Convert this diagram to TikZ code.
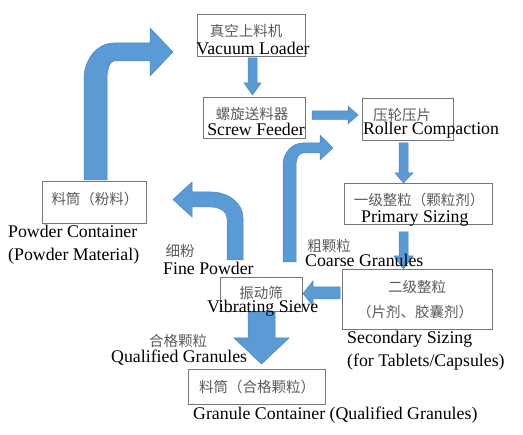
\documentclass[tikz,border=0pt]{standalone}
\usepackage{fontspec}
\setmainfont{Liberation Serif}
\newfontfamily\cjk{Noto Sans CJK SC}
\definecolor{arrfill}{HTML}{5B9BD5}
\definecolor{arrline}{HTML}{4A86C0}
\definecolor{boxline}{HTML}{767676}
\definecolor{cjkgray}{HTML}{5A5A5A}
\tikzset{
  box/.style={draw=boxline, line width=0.9pt, inner sep=0pt},
  blk/.style={fill=arrfill, draw=arrline, line width=0.5pt, line join=miter},
  en/.style={inner sep=0pt, anchor=base west, font=\fontsize{17.8}{20}\selectfont, text=black},
  enc/.style={inner sep=0pt, anchor=base, font=\fontsize{17.8}{20}\selectfont, text=black},
  zh/.style={inner sep=0pt, anchor=center, font=\cjk\fontsize{14.5}{16}\selectfont, text=cjkgray}
}
\begin{document}
\begin{tikzpicture}[x=1pt,y=-1pt]
\useasboundingbox (0,0) rectangle (523,435);
% block arrows
\fill[blk] (248,58) -- (257,58) -- (257,83) -- (261,83) -- (252.5,95) -- (244,83) -- (248,83) -- cycle;
\fill[blk] (312,111) -- (348,111) -- (348,106) -- (358,115) -- (348,124) -- (348,119.5) -- (312,119.5) -- cycle;
\fill[blk] (399,143) -- (408,143) -- (408,173) -- (413,173) -- (403.5,183) -- (395,173) -- (399,173) -- cycle;
\fill[blk] (399,232) -- (408,232) -- (408,256) -- (413,256) -- (403.5,269) -- (394,256) -- (399,256) -- cycle;
\fill[blk] (340,287) -- (313,287) -- (313,281) -- (303,293.5) -- (313,306) -- (313,299) -- (340,299) -- cycle;
\fill[blk] (248,312) -- (275,312) -- (275,338) -- (289,338) -- (261.5,364) -- (234,338) -- (248,338) -- cycle;
% bent arrow: powder container -> vacuum loader
\fill[blk] (84,180) -- (84,79) .. controls (84,59.1) and (97.4,43) .. (114,43) -- (150,43) -- (150,28) -- (173,52) -- (150,76) -- (150,61) -- (114,61) .. controls (110.1,61) and (107,69.1) .. (107,79) -- (107,180) -- cycle;
% bent arrow: fine powder
\fill[blk] (227,260) -- (227,218) .. controls (227,211.9) and (219.8,207) .. (211,207) -- (192,207) -- (192,217) -- (173,199.5) -- (192,182) -- (192,192) -- (211,192) .. controls (228.7,192) and (243,203.6) .. (243,218) -- (243,260) -- cycle;
% bent arrow: coarse granules
\fill[blk] (283,262) -- (283,165) .. controls (283,152.9) and (292,143) .. (303,143) -- (320,143) -- (320,135) -- (333,148) -- (320,160) -- (320,153) -- (303,153) .. controls (299.1,153) and (296,158.4) .. (296,165) -- (296,262) -- cycle;
% boxes
\node[box, minimum width=108pt, minimum height=42pt] (vl) at (251,35) {};
\node[box, minimum width=102pt, minimum height=41pt] (sf) at (254,117.5) {};
\node[box, minimum width=91pt, minimum height=42pt] (rc) at (407.5,119) {};
\node[box, minimum width=104pt, minimum height=42pt] (pc) at (94,202) {};
\node[box, minimum width=148pt, minimum height=41pt] (ps) at (418,203.5) {};
\node[box, minimum width=150pt, minimum height=60pt] (ss) at (417,299) {};
\node[box, minimum width=82pt, minimum height=34pt] (vs) at (261,294) {};
\node[box, minimum width=137pt, minimum height=35pt] (gc) at (256.5,386.5) {};
% chinese texts
\node[zh] (vlzh) at (246,31) {真空上料机};
\node[zh] (sfzh) at (252,114) {螺旋送料器};
\node[zh] (rczh) at (402,114.5) {压轮压片};
\node[zh] (pczh) at (95,199) {料筒（粉料）};
\node[zh] (pszh) at (419,200) {一级整粒（颗粒剂）};
\node[zh] (fpzh) at (180,251) {细粉};
\node[zh] (cgzh) at (329,246) {粗颗粒};
\node[zh] (vszh) at (261,293) {振动筛};
\node[zh] (sszh1) at (417,287) {二级整粒};
\node[zh] (sszh2) at (415,312) {（片剂、胶囊剂）};
\node[zh] (qgzh) at (178,341) {合格颗粒};
\node[zh] (gczh) at (257,387) {料筒（合格颗粒）};
% english texts
\node[enc] (vlen) at (253,55) {Vacuum Loader};
\node[enc] (sfen) at (256,136) {Screw Feeder};
\node[enc] (rcen) at (431,135) {Roller Compaction};
\node[en] (psen) at (361,222.5) {Primary Sizing};
\node[en] (pcen1) at (8,238) {Powder Container};
\node[en] (pcen2) at (8,261) {(Powder Material)};
\node[en] (fpen) at (163,275) {Fine Powder};
\node[en] (cgen) at (305,267) {Coarse Granules};
\node[en] (vsen) at (207,313) {Vibrating Sieve};
\node[en] (ssen1) at (347,344) {Secondary Sizing};
\node[en] (ssen2) at (347,367) {(for Tablets/Capsules)};
\node[en] (qgen) at (111,363) {Qualified Granules};
\node[en] (gcen) at (193,420) {Granule Container (Qualified Granules)};
\end{tikzpicture}
\end{document}
